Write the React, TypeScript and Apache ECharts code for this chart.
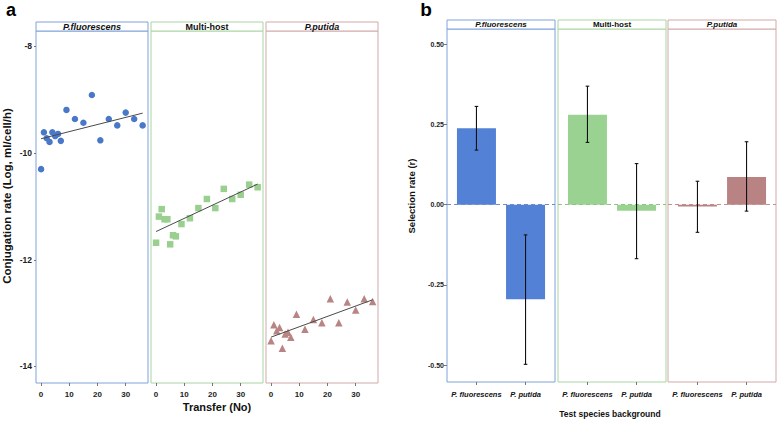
import React, { useEffect, useRef } from "react";
import * as echarts from "echarts";

// ---------- Panel a data ----------
const transfers = [0, 1, 2, 3, 4, 5, 6, 7, 9, 12, 15, 18, 21, 24, 27, 30, 33, 36];
const fluorRates = [-10.3, -9.61, -9.72, -9.79, -9.61, -9.68, -9.64, -9.77, -9.19, -9.36, -9.43, -8.91, -9.76, -9.36, -9.48, -9.24, -9.36, -9.48];
const multiRates = [-11.68, -11.19, -11.05, -11.24, -11.24, -11.71, -11.54, -11.56, -11.33, -11.22, -11.03, -10.86, -11.03, -10.67, -10.86, -10.78, -10.59, -10.64];
const putidaRates = [-13.52, -13.22, -13.33, -13.27, -13.66, -13.39, -13.36, -13.45, -13.02, -13.3, -13.12, -13.18, -12.73, -13.18, -12.79, -12.94, -12.73, -12.78];
const fluorFit = [[0, -9.73], [36, -9.25]];
const multiFit = [[0, -11.47], [36, -10.58]];
const putidaFit = [[0, -13.45], [36, -12.75]];
const transferTicks = [0, 10, 20, 30];
const rateTicks = [-14, -12, -10, -8];

// ---------- Panel b data ----------
const bgCats = ["P. fluorescens", "P. putida"];
const fluorSel = [0.238, -0.294];
const fluorLo = [0.17, -0.497];
const fluorHi = [0.306, -0.094];
const multiSel = [0.28, -0.019];
const multiLo = [0.194, -0.168];
const multiHi = [0.369, 0.128];
const putidaSel = [-0.006, 0.086];
const putidaLo = [-0.086, -0.02];
const putidaHi = [0.073, 0.196];
const selTicks = [-0.5, -0.25, 0, 0.25, 0.5];

const facetNames = ["P.fluorescens", "Multi-host", "P.putida"];
const facetItalic = [true, false, true];

const FONT = "'Liberation Sans', Arial, Helvetica, sans-serif";
const pointColors = ["#4a78c9", "#9ad08f", "#b98484"];
const barColors = ["#5381d5", "#9ad391", "#b98383"];
const borderColors = ["#7ea2d8", "#a9d6a1", "#d2a9a9"];
const dashColors = ["#6b8cc4", "#8fc486", "#c09090"];

// layout
const aLefts = [36, 151, 266];
const aW = 112;
const aTop = 31;
const aH = 352;
const bLefts = [447, 558, 668];
const bW = 108;
const bTop = 29;
const bH = 353;

function buildOption() {
  const aRates = [fluorRates, multiRates, putidaRates];
  const aFits = [fluorFit, multiFit, putidaFit];
  const aSymbols = ["circle", "rect", "triangle"];
  const bSel = [fluorSel, multiSel, putidaSel];
  const bLo = [fluorLo, multiLo, putidaLo];
  const bHi = [fluorHi, multiHi, putidaHi];

  const grid: any[] = [];
  const xAxis: any[] = [];
  const yAxis: any[] = [];
  const series: any[] = [];
  const graphic: any[] = [];

  for (let i = 0; i < 3; i++) {
    grid.push({
      left: aLefts[i], top: aTop, width: aW, height: aH,
      show: true, borderColor: borderColors[i], borderWidth: 1, backgroundColor: "transparent",
    });
    xAxis.push({
      gridIndex: i, type: "value", min: -1.8, max: 37.9, position: "bottom",
      axisLine: { show: false, onZero: false }, splitLine: { show: false },
      axisTick: { show: true, length: 3, customValues: transferTicks, lineStyle: { color: "#777" } },
      axisLabel: { customValues: transferTicks, fontSize: 8, fontWeight: "bold", color: "#222", margin: 7, fontFamily: FONT },
    });
    yAxis.push({
      gridIndex: i, type: "value", min: -14.31, max: -7.71, position: "left",
      axisLine: { show: false, onZero: false }, splitLine: { show: false },
      axisTick: { show: i === 0, length: 2, customValues: rateTicks, lineStyle: { color: "#777" } },
      axisLabel: { show: i === 0, customValues: rateTicks, fontSize: 8.5, fontWeight: "bold", color: "#222", margin: 4, fontFamily: FONT },
    });
    series.push({
      type: "scatter", xAxisIndex: i, yAxisIndex: i,
      data: transfers.map((t, k) => [t, aRates[i][k]]),
      symbol: aSymbols[i], symbolSize: i === 2 ? 7.5 : 6.5,
      itemStyle: { color: pointColors[i], opacity: 1 },
      silent: true,
    });
    series.push({
      type: "line", xAxisIndex: i, yAxisIndex: i,
      data: aFits[i], showSymbol: false, silent: true,
      lineStyle: { color: "#4a4a4a", width: 1 }, z: 3,
    });
    // strip
    graphic.push({
      type: "rect", shape: { x: aLefts[i], y: 22, width: aW, height: 9 },
      style: { fill: "#fff", stroke: borderColors[i], lineWidth: 1 },
    });
    graphic.push({
      type: "text", x: aLefts[i] + aW / 2, y: 26.8,
      style: {
        text: facetNames[i], fill: "#111", font: `${facetItalic[i] ? "italic " : ""}bold 9px ${FONT}`,
        textAlign: "center", textVerticalAlign: "middle",
      },
    });
  }

  for (let i = 0; i < 3; i++) {
    const gi = 3 + i;
    grid.push({
      left: bLefts[i], top: bTop, width: bW, height: bH,
      show: true, borderColor: borderColors[i], borderWidth: 1, backgroundColor: "transparent",
    });
    xAxis.push({
      gridIndex: gi, type: "value", min: -0.6, max: 1.6, position: "bottom",
      axisLine: { show: false, onZero: false }, splitLine: { show: false },
      axisTick: { show: true, length: 3, customValues: [0, 1], lineStyle: { color: "#777" } },
      axisLabel: {
        customValues: [0, 1], formatter: (v: number) => bgCats[Math.round(v)] ?? "",
        fontSize: 7.5, fontWeight: "bold", fontStyle: "italic", color: "#111", margin: 8, fontFamily: FONT,
      },
    });
    yAxis.push({
      gridIndex: gi, type: "value", min: -0.552, max: 0.547, position: "left",
      axisLine: { show: false, onZero: false }, splitLine: { show: false },
      axisTick: { show: i === 0, length: 3, customValues: selTicks, lineStyle: { color: "#777" } },
      axisLabel: {
        show: i === 0, customValues: selTicks, formatter: (v: number) => v.toFixed(2),
        fontSize: 7, fontWeight: "bold", color: "#222", margin: 3, fontFamily: FONT,
      },
    });
    series.push({
      type: "bar", xAxisIndex: gi, yAxisIndex: gi,
      data: bgCats.map((_, k) => [k, bSel[i][k]]),
      barWidth: 39, silent: true,
      itemStyle: { color: barColors[i] },
      markLine: {
        silent: true, symbol: "none", label: { show: false },
        data: [{ yAxis: 0 }],
        lineStyle: { type: [4, 3], color: dashColors[i], width: 1 },
      },
    });
    series.push({
      type: "custom", xAxisIndex: gi, yAxisIndex: gi, silent: true, z: 5,
      data: bgCats.map((_, k) => [k, bLo[i][k], bHi[i][k]]),
      encode: { x: 0, y: [1, 2] },
      renderItem: (_p: any, api: any) => {
        const x = api.value(0);
        const top = api.coord([x, api.value(2)]);
        const bot = api.coord([x, api.value(1)]);
        const w = 1.8;
        const st = { stroke: "#111", lineWidth: 1.1 };
        return {
          type: "group",
          children: [
            { type: "line", shape: { x1: top[0], y1: top[1], x2: bot[0], y2: bot[1] }, style: st },
            { type: "line", shape: { x1: top[0] - w, y1: top[1], x2: top[0] + w, y2: top[1] }, style: st },
            { type: "line", shape: { x1: bot[0] - w, y1: bot[1], x2: bot[0] + w, y2: bot[1] }, style: st },
          ],
        };
      },
    });
    graphic.push({
      type: "rect", shape: { x: bLefts[i], y: 20, width: bW, height: 9 },
      style: { fill: "#fff", stroke: borderColors[i], lineWidth: 1 },
    });
    graphic.push({
      type: "text", x: bLefts[i] + bW / 2, y: 24.8,
      style: {
        text: facetNames[i], fill: "#111", font: `${facetItalic[i] ? "italic " : ""}bold 8px ${FONT}`,
        textAlign: "center", textVerticalAlign: "middle",
      },
    });
  }

  // panel letters and axis titles
  graphic.push({
    type: "text", x: 11, y: 10,
    style: { text: "a", fill: "#000", font: `bold 18px ${FONT}`, textAlign: "center", textVerticalAlign: "middle" },
  });
  graphic.push({
    type: "text", x: 426, y: 9,
    style: { text: "b", fill: "#000", font: `bold 19px ${FONT}`, textAlign: "center", textVerticalAlign: "middle" },
  });
  graphic.push({
    type: "text", x: 217, y: 407,
    style: { text: "Transfer (No)", fill: "#111", font: `bold 11px ${FONT}`, textAlign: "center", textVerticalAlign: "middle" },
  });
  graphic.push({
    type: "text", x: 610, y: 414,
    style: { text: "Test species background", fill: "#111", font: `bold 8.5px ${FONT}`, textAlign: "center", textVerticalAlign: "middle" },
  });
  graphic.push({
    type: "text", x: 7, y: 196, rotation: Math.PI / 2,
    style: { text: "Conjugation rate (Log, ml/cell/h)", fill: "#111", font: `bold 11.5px ${FONT}`, textAlign: "center", textVerticalAlign: "middle" },
  });
  graphic.push({
    type: "text", x: 411, y: 196, rotation: Math.PI / 2,
    style: { text: "Selection rate (r)", fill: "#111", font: `bold 9.5px ${FONT}`, textAlign: "center", textVerticalAlign: "middle" },
  });

  return {
    animation: false,
    backgroundColor: "#ffffff",
    textStyle: { fontFamily: FONT },
    grid, xAxis, yAxis, series, graphic,
  };
}

export default function App() {
  const ref = useRef<HTMLDivElement>(null);
  useEffect(() => {
    document.body.style.margin = "0";
    const chart = echarts.init(ref.current!, null, { renderer: "svg" });
    chart.setOption(buildOption() as any);
    return () => chart.dispose();
  }, []);
  return <div ref={ref} style={{ width: 778, height: 422, position: "absolute", left: 0, top: 0 }} />;
}
